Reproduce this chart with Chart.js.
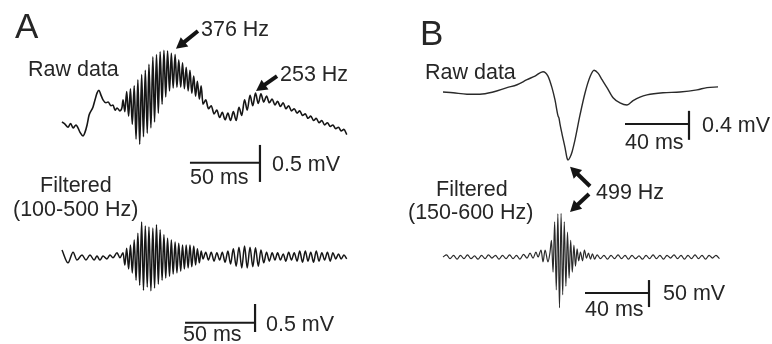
<!DOCTYPE html>
<html><head><meta charset="utf-8">
<script src="https://cdn.jsdelivr.net/npm/chart.js@4/dist/chart.umd.min.js"></script>
<style>
html,body{margin:0;padding:0;background:#fff;}
#wrap{position:relative;width:772px;height:344px;overflow:hidden;background:#fff;}
canvas{position:absolute;left:0;top:0;}
.t{position:absolute;font-family:"Liberation Sans",Arial,sans-serif;color:#262626;line-height:1;white-space:nowrap;}
</style></head><body>
<div id="wrap"><canvas id="c" width="772" height="344"></canvas></div>
<script>
// ---------- DATA (time in ms, voltage in mV) ----------
// Panel A, raw trace
const rawA = [
[0,0],[2.1,-0.03],[4.3,-0.07],[6.2,-0.02],[7.9,-0.08],[10.0,-0.04],[11.4,-0.08],[12.9,-0.14],[15.0,-0.19],[16.4,-0.14],[17.9,-0.04],[19.3,0.09],[22.1,0.20],[23.6,0.30],[25.0,0.39],[26.4,0.43],[27.9,0.36],[29.3,0.30],[31.4,0.26],[32.9,0.27],[35.0,0.22],[36.4,0.23],[37.9,0.16],[39.3,0.19],[41.4,0.15],[42.9,0.20],
[43.6,0.30],[44.9,0.14],[46.2,0.41],[47.6,0.08],[48.9,0.45],[50.2,-0.03],[51.6,0.49],[52.9,-0.23],[54.2,0.57],[55.5,-0.30],[56.9,0.64],[58.2,-0.20],[59.5,0.70],[60.9,-0.15],[62.1,0.78],[63.5,-0.08],[64.9,0.88],[66.1,0.00],[67.5,0.91],[68.8,0.12],[70.1,0.95],[71.5,0.24],[72.8,0.97],[74.1,0.34],[75.4,0.96],[76.8,0.42],[78.1,0.93],[79.4,0.46],[80.8,0.91],[82.1,0.47],[83.4,0.84],[84.8,0.47],[86.1,0.80],[87.4,0.45],[88.7,0.74],[90.1,0.42],[91.4,0.70],[92.7,0.39],[94.1,0.62],[95.4,0.35],[96.7,0.55],[98.1,0.31],[99.4,0.49],[100.7,0.24],
[102.7,0.30],[104.6,0.18],[106.6,0.22],[108.6,0.11],[110.6,0.16],[112.6,0.06],[114.5,0.13],[116.5,0.03],[118.5,0.12],[120.4,0.02],[122.4,0.14],[124.4,0.02],[126.4,0.20],[128.4,0.09],[130.4,0.30],[132.3,0.16],[134.3,0.36],[136.3,0.22],[138.2,0.39],[140.2,0.25],[142.1,0.38],[144.1,0.27],[146.1,0.35],[148.1,0.26],[150.1,0.31],[152.1,0.23],[154.0,0.28],[156.0,0.21],[158.0,0.26],[159.9,0.18],[161.9,0.22],[163.9,0.15],[165.9,0.18],[167.9,0.12],[169.8,0.15],[171.8,0.09],[173.8,0.11],[175.7,0.05],[177.7,0.08],[179.7,0.02],[181.6,0.05],[183.6,-0.01],[185.6,0.02],[187.6,-0.04],[189.6,-0.01],[191.6,-0.06],[193.5,-0.04],[195.5,-0.09],[197.5,-0.07],[199.4,-0.12],[201.4,-0.10],[203.4,-0.17]
];
// Panel A, filtered (100-500 Hz)
const filtA = [
[0,0.09],[4.3,-0.14],[7.9,0.05],[10.7,-0.09],[14.3,0.00],[17.1,-0.09],[20.0,0.00],[22.9,-0.09],[25.0,-0.02],[27.1,-0.09],[29.3,-0.02],[32.1,-0.07],[34.3,0.00],[36.4,-0.05],[39.3,0.04],[41.4,-0.05],
[43.6,0.04],[44.9,-0.18],[46.2,0.12],[47.6,-0.25],[48.9,0.18],[50.2,-0.32],[51.6,0.27],[52.9,-0.45],[54.2,0.39],[55.5,-0.54],[56.9,0.59],[58.2,-0.63],[59.5,0.52],[60.9,-0.57],[62.1,0.50],[63.5,-0.64],[64.9,0.48],[66.1,-0.59],[67.5,0.54],[68.8,-0.52],[70.1,0.45],[71.5,-0.45],[72.8,0.36],[74.1,-0.41],[75.4,0.30],[76.8,-0.38],[78.1,0.27],[79.4,-0.34],[80.8,0.23],[82.1,-0.32],[83.4,0.21],[84.8,-0.29],[86.1,0.18],[87.4,-0.25],[88.7,0.18],[90.1,-0.23],[91.4,0.18],[92.7,-0.21],[94.1,0.16],[95.4,-0.18],[96.7,0.11],[98.1,-0.14],[99.4,0.07],[100.7,-0.07],
[102.7,0.05],[104.6,-0.09],[106.6,0.05],[108.6,-0.11],[110.6,0.04],[112.6,-0.09],[114.5,0.05],[116.5,-0.13],[118.5,0.07],[120.4,-0.16],[122.4,0.11],[124.4,-0.20],[126.4,0.14],[128.4,-0.23],[130.4,0.16],[132.3,-0.23],[134.3,0.14],[136.3,-0.21],[138.2,0.13],[140.2,-0.20],[142.1,0.09],[144.1,-0.14],[146.1,0.05],[148.1,-0.11],[150.1,0.04],[152.1,-0.09],[154.0,0.04],[156.0,-0.09],[158.0,0.02],[159.9,-0.11],[161.9,0.05],[163.9,-0.09],[165.9,0.04],[167.9,-0.11],[169.8,0.07],[171.8,-0.13],[173.8,0.07],[175.7,-0.11],[177.7,0.05],[179.7,-0.13],[181.6,0.07],[183.6,-0.11],[185.6,0.04],[187.6,-0.09],[189.6,0.05],[191.6,-0.11],[193.5,0.04],[195.5,-0.07],[197.5,0.02],[199.4,-0.07],[201.4,0.00],[203.4,-0.07]
];
// Panel B, raw trace
const rawB = [
[0,0],[6.3,-0.01],[15.0,-0.03],[23.1,-0.03],[31.3,0.00],[40.0,0.06],[46.3,0.10],[52.5,0.17],[57.5,0.22],[62.5,0.28],[65.6,0.22],[68.1,0.06],[70.0,-0.11],[71.9,-0.33],[72.5,-0.36],[73.1,-0.44],[74.4,-0.58],[76.3,-0.77],[77.5,-0.91],[78.1,-0.94],[79.4,-0.90],[80.6,-0.83],[82.5,-0.66],[85.6,-0.32],[88.8,-0.01],[91.9,0.21],[94.4,0.30],[96.9,0.26],[99.4,0.17],[102.5,0.06],[106.3,-0.08],[110.6,-0.15],[115.0,-0.18],[118.8,-0.12],[123.1,-0.07],[127.5,-0.04],[137.5,-0.01],[148.1,0.00],[158.8,0.03],[165.0,0.06],[171.9,0.07]
];
// Panel B, filtered (150-600 Hz)
const filtB = [
[0,0],[2.2,4],[4.4,-3],[6.6,3],[8.8,-4],[10.9,3],[13.1,-3],[15.3,4],[17.5,-3],[19.7,2],[21.9,-4],[24.1,3],[26.3,-3],[28.4,4],[30.6,-2],[32.8,3],[35.0,-4],[37.2,3],[39.4,-3],[41.6,4],[43.8,-3],[45.9,3],[48.1,-4],[50.3,5],[52.5,-2],
[54.4,7],[56.3,-2],[58.1,9],[59.4,0],[61.3,13],[62.5,-9],[63.8,13],[65.6,-9],[66.9,9],
[67.8,31],[68.8,-28],[69.8,65],[70.8,-61],[71.8,80],[72.8,-94],[73.8,81],[74.8,-70],[75.8,65],[76.8,-54],[77.8,46],[78.8,-39],[79.8,31],[80.8,-28],[81.8,22],[82.8,-17],[83.8,15],[84.8,-7],
[85.9,9],[87.2,-7],[88.4,13],[89.7,-2],[90.9,7],[92.2,-4],[93.4,6],[94.7,-4],[96.3,4],
[98.4,-3],[100.6,3],[102.8,-4],[105.0,3],[107.2,-3],[109.4,4],[111.6,-3],[113.8,3],[115.9,-4],[118.1,3],[120.3,-3],[122.5,2],[124.7,-4],[126.9,3],[129.1,-3],[131.3,4],[133.4,-3],[135.6,3],[137.8,-4],[140.0,3],[142.2,-2],[144.4,4],[146.6,-3],[148.8,3],[150.9,-4],[153.1,3],[155.3,-3],[157.5,4],[159.7,-3],[161.9,3],[164.1,-4],[166.3,3],[168.4,-2],[170.6,3],[172.8,-3]
];
// Scale bar sizes (ms, mV)
const barTimes = [50, 50, 40, 40];
const barVolts = [0.5, 0.5, 0.4, 50];
// Labels
const panelLabels = ["A", "B"];
const traceLabels = ["Raw data", "Filtered", "(100-500 Hz)", "Raw data", "Filtered", "(150-600 Hz)"];
const freqLabels = ["376 Hz", "253 Hz", "499 Hz"];
const barLabels = ["50 ms", "0.5 mV", "50 ms", "0.5 mV", "40 ms", "0.4 mV", "40 ms", "50 mV"];

// ---------- LAYOUT ----------
const W = 772, H = 344;
const axisLayout = {
  xA: {origin: 62, ppu: 1.4},  xB: {origin: 443, ppu: 1.6},
  yAraw: {origin: 122, ppu: 74}, yAfilt: {origin: 255, ppu: 56},
  yBraw: {origin: 92, ppu: 72.5}, yBfilt: {origin: 257, ppu: 0.54}
};
const scales = {};
for (const id in axisLayout) {
  const a = axisLayout[id];
  if (id[0] === 'x') scales[id] = {type:'linear', axis:'x', display:false, min: -a.origin / a.ppu, max: (W - a.origin) / a.ppu};
  else scales[id] = {type:'linear', axis:'y', display:false, min: (a.origin - H) / a.ppu, max: a.origin / a.ppu};
}
// scale bar placement: right end time, horizontal level, vertical bar offset below level
const barPlace = [
  {x:'xA', y:'yAraw', t:141.4, v:-0.55, below:0.26},
  {x:'xA', y:'yAfilt', t:137.9, v:-1.21, below:0.165},
  {x:'xB', y:'yBraw', t:153.75, v:-0.44, below:0.22},
  {x:'xB', y:'yBfilt', t:128.75, v:-66.7, below:26}
];
const arrows = [
  {x:'xA', y:'yAraw', from:[97.1,1.23], to:[81.4,0.99]},
  {x:'xA', y:'yAraw', from:[153.6,0.62], to:[138.6,0.42]},
  {x:'xB', y:'yBraw', from:[91.9,-1.30], to:[79.4,-1.03]},
  {x:'xB', y:'yBfilt', from:[91.25,116.7], to:[79.4,83.3]}
];

const toXY = arr => arr.map(p => ({x:p[0], y:p[1]}));
const smooth = {cubicInterpolationMode:'monotone'};
const datasets = [
  Object.assign({data: toXY(rawA), xAxisID:'xA', yAxisID:'yAraw', borderColor:'#161616', borderWidth:1.6}, smooth),
  Object.assign({data: toXY(filtA), xAxisID:'xA', yAxisID:'yAfilt', borderColor:'#161616', borderWidth:1.5}, smooth),
  Object.assign({data: toXY(rawB), xAxisID:'xB', yAxisID:'yBraw', borderColor:'#2a2a2a', borderWidth:1.4}, smooth),
  Object.assign({data: toXY(filtB), xAxisID:'xB', yAxisID:'yBfilt', borderColor:'#2a2a2a', borderWidth:1.2}, smooth)
];
barPlace.forEach((b, i) => {
  datasets.push({data:[{x:b.t - barTimes[i], y:b.v},{x:b.t, y:b.v}], xAxisID:b.x, yAxisID:b.y, borderColor:'#1a1a1a', borderWidth:2, borderCapStyle:'butt'});
  datasets.push({data:[{x:b.t, y:b.v - b.below},{x:b.t, y:b.v - b.below + barVolts[i]}], xAxisID:b.x, yAxisID:b.y, borderColor:'#1a1a1a', borderWidth:2.2, borderCapStyle:'butt'});
});

const arrowPlugin = {
  id:'arrows',
  afterDatasetsDraw(chart) {
    const ctx = chart.ctx;
    ctx.save();
    ctx.fillStyle = '#141414'; ctx.strokeStyle = '#141414';
    arrows.forEach(a => {
      const sx = chart.scales[a.x], sy = chart.scales[a.y];
      const x0 = sx.getPixelForValue(a.from[0]), y0 = sy.getPixelForValue(a.from[1]);
      const x1 = sx.getPixelForValue(a.to[0]), y1 = sy.getPixelForValue(a.to[1]);
      const ang = Math.atan2(y1 - y0, x1 - x0);
      const hl = 11, hw = 6;
      const bx = x1 - hl * Math.cos(ang), by = y1 - hl * Math.sin(ang);
      ctx.lineWidth = 4; ctx.lineCap = 'butt';
      ctx.beginPath(); ctx.moveTo(x0, y0); ctx.lineTo(bx + 2*Math.cos(ang), by + 2*Math.sin(ang)); ctx.stroke();
      ctx.beginPath();
      ctx.moveTo(x1, y1);
      ctx.lineTo(bx + hw * Math.sin(ang), by - hw * Math.cos(ang));
      ctx.lineTo(bx - hw * Math.sin(ang), by + hw * Math.cos(ang));
      ctx.closePath(); ctx.fill();
    });
    ctx.restore();
  }
};

new Chart(document.getElementById('c').getContext('2d'), {
  type:'line',
  data:{datasets},
  options:{
    responsive:false, animation:false, events:[],
    layout:{padding:0},
    plugins:{legend:{display:false}, tooltip:{enabled:false}},
    elements:{point:{radius:0}, line:{tension:0}},
    scales
  },
  plugins:[arrowPlugin]
});

// ---------- TEXT ----------
const wrap = document.getElementById('wrap');
function addText(txt, left, baseline, size) {
  const d = document.createElement('div');
  d.className = 't';
  d.textContent = txt;
  d.style.left = left + 'px';
  d.style.top = (baseline - 0.8465 * size) + 'px';
  d.style.fontSize = size + 'px';
  wrap.appendChild(d);
}
addText(panelLabels[0], 15, 38, 35);
addText(panelLabels[1], 420, 45, 35);
const tpos = [[28,77],[40,193],[13,217],[425,80],[436,197],[408,220]];
traceLabels.forEach((s,i) => addText(s, tpos[i][0], tpos[i][1], 21.5));
const fpos = [[201,37],[280,82],[596,200]];
freqLabels.forEach((s,i) => addText(s, fpos[i][0], fpos[i][1], 21.5));
const bpos = [[190,185],[272,172],[183,342],[266,332],[625,150],[702,133],[585,317],[663,301]];
barLabels.forEach((s,i) => addText(s, bpos[i][0], bpos[i][1], 21.5));
</script>
</body></html>
